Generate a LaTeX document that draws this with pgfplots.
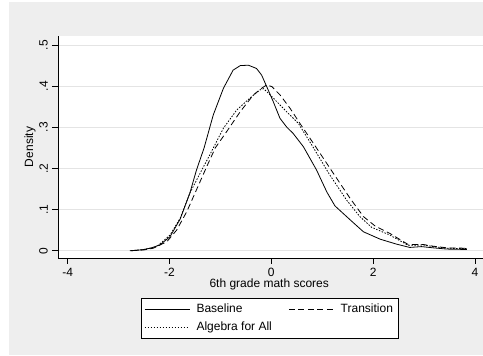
\documentclass[border=0pt]{standalone}
\usepackage{pgfplots}
\pgfplotsset{compat=1.18}
\usepackage{fontspec}
\setmainfont{Liberation Sans}
\definecolor{bggray}{RGB}{238,238,238}
\definecolor{gridgray}{RGB}{228,228,228}
\begin{document}
\fontsize{12}{14}\selectfont
\begin{tikzpicture}[x=1pt,y=1pt]
\useasboundingbox (0,0) rectangle (483,356);
\fill[bggray] (9,1) rectangle (483,354);
\begin{axis}[
  at={(58pt,98pt)}, anchor=south west,
  scale only axis, width=425pt, height=222pt,
  xmin=-4.19, xmax=4.159, ymin=-0.0177, ymax=0.522,
  axis background/.style={fill=white},
  axis x line*=bottom, axis y line*=left,
  axis line style={line width=0.8pt, -},
  xtick={-4,-2,0,2,4}, xticklabels={-4,-2,0,2,4},
  ytick={0,0.1,0.2,0.3,0.4,0.5}, yticklabels={0,.1,.2,.3,.4,.5},
  tick align=outside, major tick length=6pt,
  tick style={black, line width=0.8pt},
  ymajorgrids, grid style={gridgray, line width=1pt},
  yticklabel style={rotate=90, anchor=south},
  xlabel={6th grade math scores}, ylabel={Density},
  xlabel style={at={(axis description cs:0.497,-0.1338)}, anchor=base},
  ylabel style={at={(axis description cs:-0.0659,0.5)}, anchor=center},
  legend columns=2,
  legend style={at={(axis description cs:0.4985,-0.1815)}, anchor=north,
    draw=black, line width=0.8pt, fill=white, inner xsep=3pt, inner ysep=2pt,
    nodes={inner sep=2.5pt, text height=9.5pt, text depth=3.5pt},
    /tikz/every even column/.append style={column sep=14pt}},
  legend cell align=left,
  legend image code/.code={\draw[#1, line width=0.8pt] (0pt,0pt) -- (45pt,0pt); \path (49pt,0pt);},
]
\addplot[black, line width=0.8pt] coordinates {
(-2.78,0)(-2.55,0.002)(-2.38,0.006)(-2.19,0.014)(-1.99,0.034)(-1.79,0.077)
(-1.60,0.140)(-1.47,0.196)(-1.32,0.250)(-1.14,0.330)(-0.94,0.395)(-0.75,0.439)
(-0.61,0.450)(-0.45,0.451)(-0.29,0.443)(-0.19,0.427)(-0.09,0.399)(0.04,0.362)
(0.17,0.322)(0.30,0.301)(0.43,0.285)(0.63,0.253)(0.89,0.196)(1.09,0.143)
(1.25,0.109)(1.55,0.075)(1.81,0.046)(2.14,0.028)(2.46,0.016)(2.72,0.008)
(2.95,0.010)(3.18,0.007)(3.45,0.004)(3.84,0.003)};
\addlegendentry{Baseline}
\addplot[black, line width=0.8pt, dash pattern=on 6pt off 3.5pt] coordinates {
(-2.75,0)(-2.5,0.002)(-2.32,0.006)(-2.05,0.022)(-1.86,0.050)(-1.66,0.095)
(-1.47,0.148)(-1.27,0.204)(-1.10,0.250)(-0.88,0.289)(-0.61,0.338)(-0.35,0.379)
(-0.19,0.395)(-0.09,0.403)(0.01,0.399)(0.17,0.379)(0.37,0.346)(0.56,0.310)
(0.86,0.255)(1.22,0.188)(1.55,0.127)(1.81,0.083)(2.04,0.060)(2.33,0.042)
(2.69,0.015)(2.99,0.015)(3.18,0.011)(3.45,0.007)(3.84,0.006)};
\addlegendentry{Transition}
\addplot[black, line width=0.8pt, dash pattern=on 1.5pt off 1.5pt] coordinates {
(-2.75,0)(-2.5,0.003)(-2.25,0.010)(-1.99,0.038)(-1.79,0.079)(-1.60,0.140)
(-1.40,0.188)(-1.20,0.235)(-0.94,0.298)(-0.68,0.342)(-0.42,0.371)(-0.22,0.391)
(-0.15,0.394)(0.04,0.371)(0.30,0.338)(0.53,0.310)(0.83,0.250)(1.15,0.184)
(1.48,0.123)(1.74,0.083)(1.97,0.057)(2.33,0.038)(2.69,0.013)(2.99,0.014)
(3.18,0.010)(3.45,0.006)(3.84,0.005)};
\addlegendentry{Algebra for All}
\end{axis}
\end{tikzpicture}
\end{document}
